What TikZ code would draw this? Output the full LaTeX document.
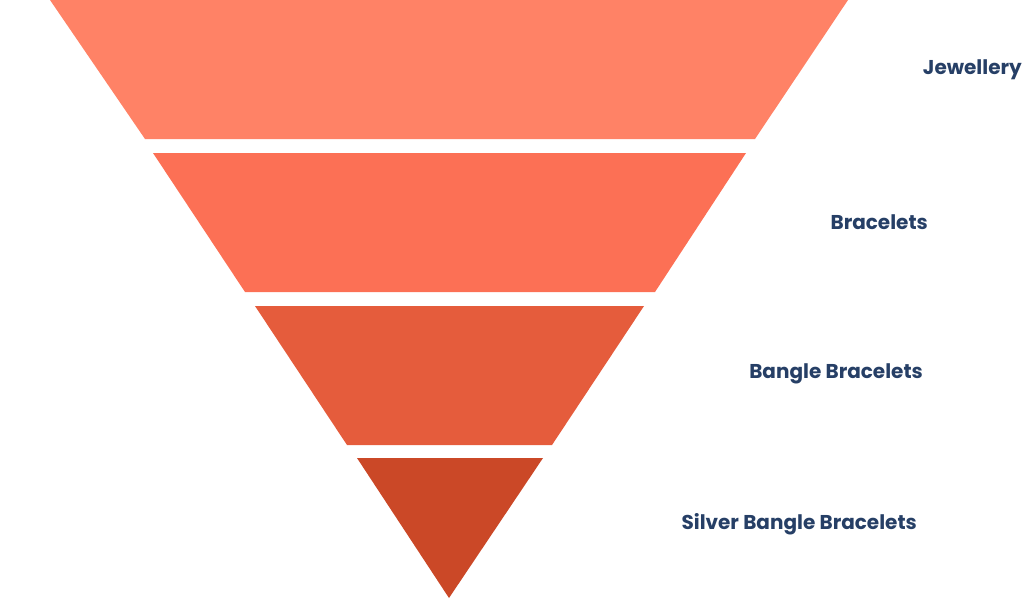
\documentclass[tikz,border=0pt]{standalone}
\usepackage{fontspec}
\setmainfont{Poppins}
\begin{document}
\begin{tikzpicture}[x=1pt,y=-1pt,
  lbl/.style={anchor=east,text=labelc,font=\fontsize{20}{24}\selectfont\bfseries,inner sep=0pt}]
\definecolor{labelc}{HTML}{263F66}
\definecolor{cA}{HTML}{FF8266}
\definecolor{cB}{HTML}{FC7055}
\definecolor{cC}{HTML}{E55C3C}
\definecolor{cD}{HTML}{CB4827}
\useasboundingbox (0,0) rectangle (1024,598);
\fill[cA] (50,0) -- (848,0) -- (755,139) -- (145,139) -- cycle;
\fill[cB] (153,153) -- (746,153) -- (655,292) -- (245,292) -- cycle;
\fill[cC] (255,306) -- (644,306) -- (552,445) -- (347,445) -- cycle;
\fill[cD] (357,458) -- (543,458) -- (449,598) -- cycle;
\node[lbl] (l1) at (1022,70) {Jewellery};
\node[lbl] (l2) at (928,222) {Bracelets};
\node[lbl] (l3) at (923,374) {Bangle Bracelets};
\node[lbl] (l4) at (917,524) {Silver Bangle Bracelets};
\end{tikzpicture}
\end{document}
